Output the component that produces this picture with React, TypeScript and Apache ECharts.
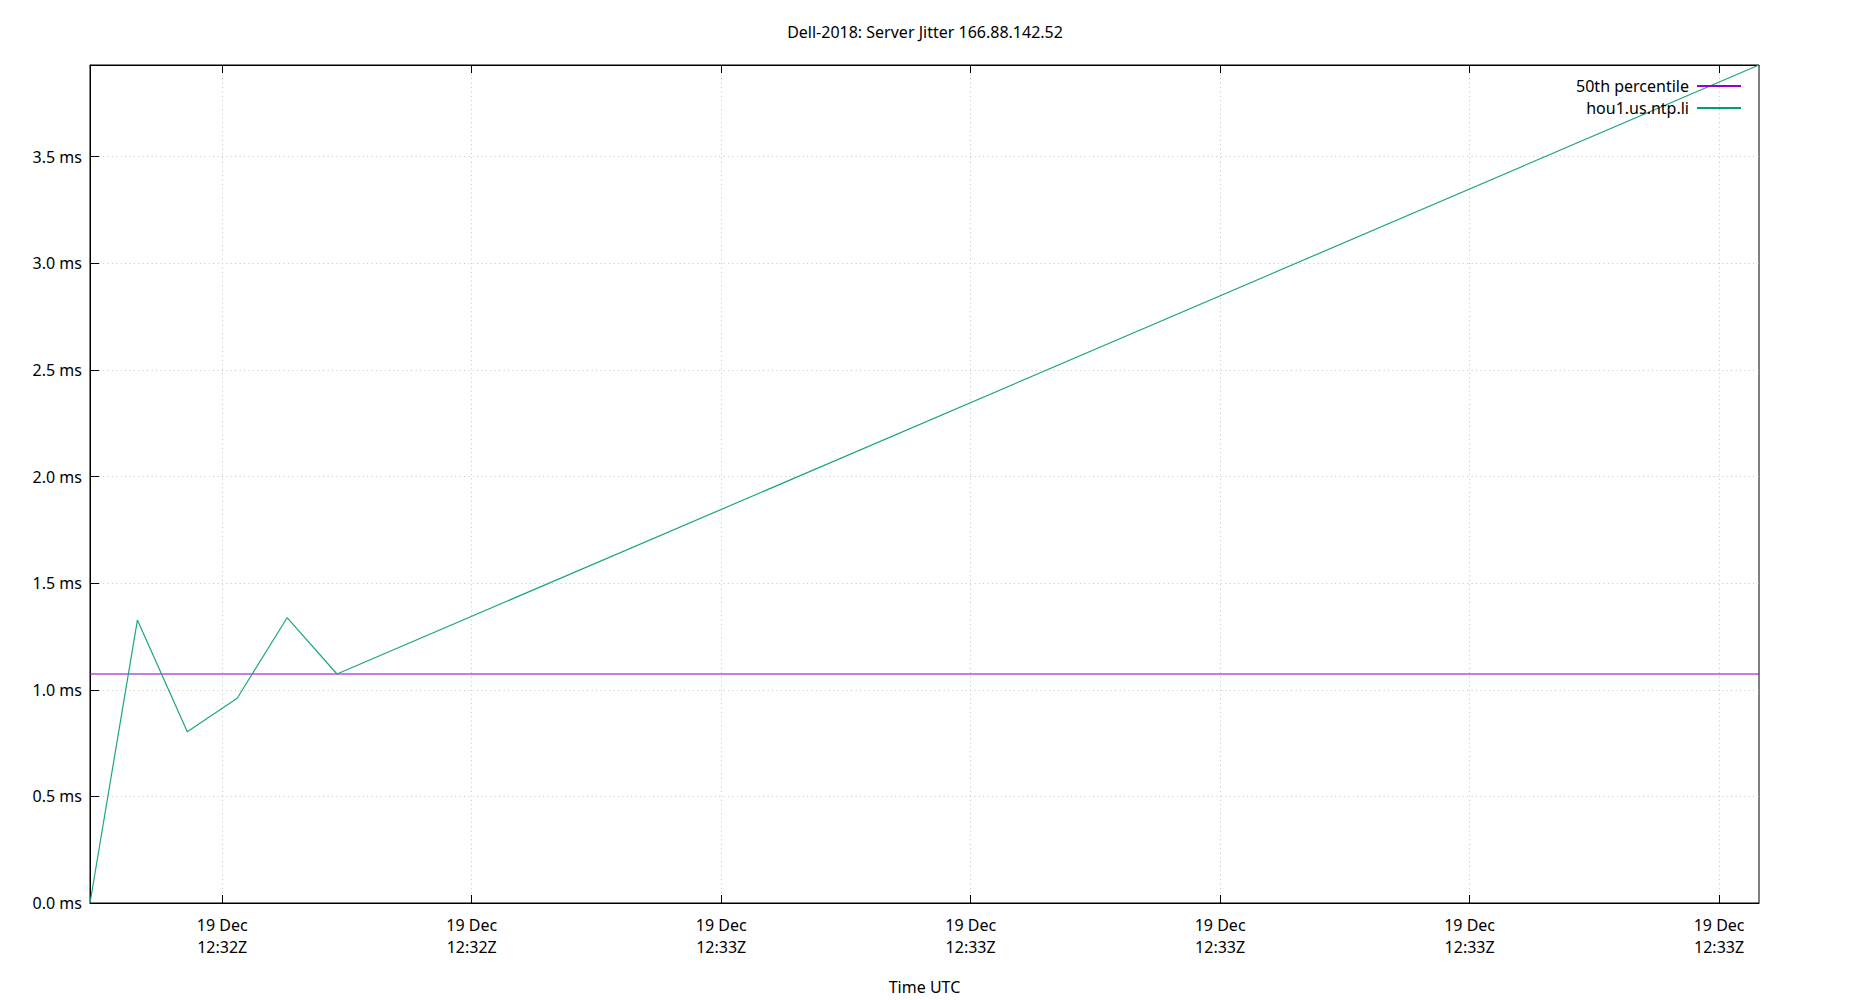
import React, { useEffect, useRef } from 'react';
import * as echarts from 'echarts';

// seconds after 19 Dec 12:32:00 UTC
const times = [34.7, 36.6, 38.6, 40.6, 42.6, 44.6, 101.6];
const jitterMs = [0.0, 1.327, 0.803, 0.96, 1.338, 1.074, 3.93];
const medianMs = 1.074;
const xTickValues = [40, 50, 60, 70, 80, 90, 100];
const xTickLabels = [
  '19 Dec\n12:32Z',
  '19 Dec\n12:32Z',
  '19 Dec\n12:33Z',
  '19 Dec\n12:33Z',
  '19 Dec\n12:33Z',
  '19 Dec\n12:33Z',
  '19 Dec\n12:33Z',
];
const yTickValues = [0, 0.5, 1.0, 1.5, 2.0, 2.5, 3.0, 3.5];
const seriesNames = ['50th percentile', 'hou1.us.ntp.li'];
const title = 'Dell-2018: Server Jitter 166.88.142.52';
const xName = 'Time UTC';

const FONT = 'Noto Sans';
const FS = 16;

export default function App() {
  const ref = useRef<HTMLDivElement>(null);
  useEffect(() => {
    if (!ref.current) return;
    const chart = echarts.init(ref.current, null, { renderer: 'svg' });
    const xMin = times[0];
    const xMax = times[times.length - 1];
    const yMax = Math.max(...jitterMs);
    const grid = { left: 90, right: 91, top: 65, bottom: 93 };
    const dotted = { color: '#c4c4c4', width: 1, type: [1, 3.4] as any };
    chart.setOption({
      animation: false,
      backgroundColor: '#fff',
      textStyle: { fontFamily: FONT },
      title: {
        text: title,
        left: 'center',
        top: 19,
        textStyle: { fontFamily: FONT, fontSize: FS, fontWeight: 'normal', color: '#000' },
      },
      legend: {
        orient: 'vertical',
        right: 104,
        top: 73,
        align: 'right',
        itemWidth: 44,
        itemHeight: 2,
        itemGap: 6,
        icon: 'rect',
        textStyle: { fontFamily: FONT, fontSize: FS, color: '#000', padding: [0, 3, 0, 0] },
        data: seriesNames,
      },
      grid: { ...grid, show: true, borderColor: '#000', borderWidth: 1, containLabel: false },
      xAxis: [
        {
          type: 'value',
          min: xMin,
          max: xMax,
          name: xName,
          nameLocation: 'middle',
          nameGap: 76,
          nameTextStyle: { fontFamily: FONT, fontSize: FS, color: '#000' },
          axisLine: { show: true, lineStyle: { color: '#000', width: 1 } },
          axisTick: { show: true, inside: true, length: 8, customValues: xTickValues, lineStyle: { color: '#000' } },
          axisLabel: {
            customValues: xTickValues,
            margin: 11,
            fontFamily: FONT,
            fontSize: FS,
            color: '#000',
            lineHeight: 22,
            formatter: (v: number) => {
              const i = xTickValues.findIndex((t) => Math.abs(t - v) < 1e-6);
              return i >= 0 ? xTickLabels[i] : '';
            },
          },
          splitLine: { show: true, lineStyle: dotted },
        },
        {
          type: 'value',
          position: 'top',
          min: xMin,
          max: xMax,
          axisLine: { show: true, lineStyle: { color: '#000', width: 1 } },
          axisTick: { show: true, inside: true, length: 8, customValues: xTickValues, lineStyle: { color: '#000' } },
          axisLabel: { show: false },
          splitLine: { show: false },
        },
      ],
      yAxis: [
        {
          type: 'value',
          min: 0,
          max: yMax,
          interval: 0.5,
          axisLine: { show: true, lineStyle: { color: '#000', width: 1 } },
          axisTick: { show: true, inside: true, length: 9, customValues: yTickValues, lineStyle: { color: '#000' } },
          axisLabel: {
            customValues: yTickValues,
            margin: 8,
            fontFamily: FONT,
            fontSize: FS,
            color: '#000',
            formatter: (v: number) => v.toFixed(1) + ' ms',
          },
          splitLine: { show: true, lineStyle: dotted },
        },
      ],
      series: [
        {
          name: seriesNames[0],
          type: 'line',
          showSymbol: false,
          symbol: 'none',
          color: '#9400d3',
          lineStyle: { color: '#8a00cc', width: 1.2 },
          data: [
            [xMin, medianMs],
            [xMax, medianMs],
          ],
        },
        {
          name: seriesNames[1],
          type: 'line',
          showSymbol: false,
          symbol: 'none',
          color: '#009e73',
          lineStyle: { color: '#1aa585', width: 1.2 },
          data: times.map((t, i) => [t, jitterMs[i]]),
        },
      ],
    });
    return () => chart.dispose();
  }, []);
  return (
    <div
      ref={ref}
      style={{ position: 'fixed', left: 0, top: 0, width: 1850, height: 1000 }}
    />
  );
}
